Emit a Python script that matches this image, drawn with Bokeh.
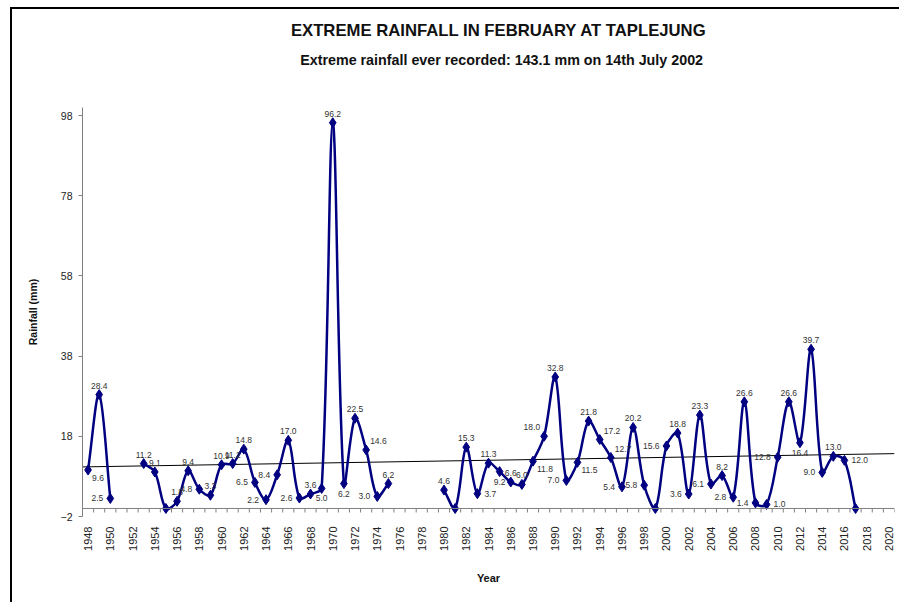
import numpy as np
from bokeh.plotting import figure
from bokeh.layouts import column
from bokeh.models import ColumnDataSource, FixedTicker, Span, Range1d
from bokeh.embed import file_html
from bokeh.resources import INLINE

# ---------------- data ----------------
years = [1948, 1949, 1950,
         1953, 1954, 1955, 1956, 1957, 1958, 1959, 1960, 1961, 1962, 1963, 1964,
         1965, 1966, 1967, 1968, 1969, 1970, 1971, 1972, 1973, 1974, 1975,
         1980, 1981, 1982, 1983, 1984, 1985, 1986, 1987, 1988, 1989, 1990, 1991,
         1992, 1993, 1994, 1995, 1996, 1997, 1998, 1999, 2000, 2001, 2002, 2003,
         2004, 2005, 2006, 2007, 2008, 2009, 2010, 2011, 2012, 2013, 2014, 2015,
         2016, 2017]
rain_mm = [9.6, 28.4, 2.5,
           11.2, 9.1, 0.0, 1.8, 9.4, 4.8, 3.3, 10.9, 11.2, 14.8, 6.5, 2.2,
           8.4, 17.0, 2.6, 3.6, 5.0, 96.2, 6.2, 22.5, 14.6, 3.0, 6.2,
           4.6, 0.0, 15.3, 3.7, 11.3, 9.2, 6.6, 6.0, 11.8, 18.0, 32.8, 7.0,
           11.5, 21.8, 17.2, 12.7, 5.4, 20.2, 5.8, 0.0, 15.6, 18.8, 3.6, 23.3,
           6.1, 8.2, 2.8, 26.6, 1.4, 1.0, 12.8, 26.6, 16.4, 39.7, 9.0, 13.0,
           12.0, 0.0]
y_ticks = [-2, 18, 38, 58, 78, 98]
x_tick_years = list(range(1948, 2021, 2))
TITLE = "EXTREME RAINFALL IN FEBRUARY AT TAPLEJUNG"
SUBTITLE = "Extreme rainfall ever recorded: 143.1 mm on 14th July 2002"

# data-label placement (style only)
LABEL_POS = {1948: "br", 1950: "l", 1958: "l", 1963: "l", 1964: "l", 1965: "l",
             1967: "l", 1969: "b", 1971: "b", 1973: "ar", 1974: "l",
             1983: "r", 1985: "b", 1988: "br", 1989: "al", 1991: "l", 1992: "br",
             1994: "ar", 1995: "ar", 1996: "l", 1998: "l", 2000: "l", 2002: "l",
             2004: "l", 2006: "l", 2008: "l", 2009: "r", 2010: "l", 2012: "b",
             2014: "l", 2016: "r"}

FONT = "Liberation Sans"
NAVY = "#000080"
X0, X1 = 1947.5, 2020.5
Y0, Y1 = -2, 100

W = 899
HT = 70            # height of the title strip
H = 602 - HT       # height of the chart figure
ML, MR, MT, MB = 82, 5, 107 - HT, 602 - 516

# ---------------- title strip ----------------
t = figure(width=W, height=HT, output_backend="svg", toolbar_location=None,
           x_range=Range1d(0, W), y_range=Range1d(HT, 0),
           min_border=0, x_axis_location=None, y_axis_location=None)
t.border_fill_color = None
t.background_fill_color = None
t.outline_line_color = None
t.xgrid.visible = False
t.ygrid.visible = False
t.text(x=[461], y=[30], text=[TITLE], text_align="center", text_baseline="middle",
       text_font={"value": FONT}, text_font_style="bold", text_font_size="16.7px",
       text_color="#111111")
t.text(x=[464], y=[59], text=[SUBTITLE], text_align="center", text_baseline="middle",
       text_font={"value": FONT}, text_font_style="bold", text_font_size="14.3px",
       text_color="#111111")

# ---------------- chart ----------------
p = figure(width=W, height=H, output_backend="svg", toolbar_location=None,
           x_range=Range1d(X0, X1), y_range=Range1d(Y0, Y1),
           min_border_left=ML, min_border_right=MR, min_border_top=MT,
           min_border_bottom=MB)
p.border_fill_color = None
p.background_fill_color = None
p.outline_line_color = None
p.xgrid.visible = False
p.ygrid.visible = False

SX = (W - ML - MR) / (X1 - X0)
SY = (H - MT - MB) / (Y1 - Y0)

# y axis
p.yaxis.ticker = FixedTicker(ticks=y_ticks)
p.yaxis.axis_line_color = "#808080"
p.yaxis.major_tick_line_color = "#808080"
p.yaxis.major_tick_out = 4
p.yaxis.major_tick_in = 0
p.yaxis.minor_tick_line_color = None
p.yaxis.major_label_text_font = FONT
p.yaxis.major_label_text_font_size = "10.5px"
p.yaxis.major_label_text_color = "#222222"
p.yaxis.major_label_standoff = 6
p.yaxis.axis_label = "Rainfall (mm)"
p.yaxis.axis_label_text_font = FONT
p.yaxis.axis_label_text_font_style = "bold"
p.yaxis.axis_label_text_font_size = "10.5px"
p.yaxis.axis_label_text_color = "#111111"
p.yaxis.axis_label_standoff = 19

# x axis (labels only; axis line drawn at 0)
p.xaxis.ticker = FixedTicker(ticks=x_tick_years)
p.xaxis.axis_line_color = None
p.xaxis.major_tick_line_color = None
p.xaxis.minor_tick_line_color = None
p.xaxis.major_label_orientation = np.pi / 2
p.xaxis.major_label_text_font = FONT
p.xaxis.major_label_text_font_size = "11px"
p.xaxis.major_label_text_color = "#222222"
p.xaxis.major_label_standoff = 4
p.xaxis.axis_label = "Year"
p.xaxis.axis_label_text_font = FONT
p.xaxis.axis_label_text_font_style = "bold"
p.xaxis.axis_label_text_font_size = "11px"
p.xaxis.axis_label_text_color = "#111111"
p.xaxis.axis_label_standoff = 18

p.add_layout(Span(location=0, dimension="width", line_color="#808080", line_width=1))
bounds = np.arange(X0, X1 + 0.01, 1.0)
p.segment(x0=bounds, y0=np.zeros_like(bounds), x1=bounds, y1=np.full_like(bounds, -1.0),
          line_color="#808080", line_width=1)

# linear trend line (least squares over the data)
coef = np.polyfit(years, rain_mm, 1)
tx = np.array([X0, X1])
p.line(tx, np.polyval(coef, tx), line_color="black", line_width=1)

# smoothed line: Excel-like bezier segments (chord-length scaled tangents)
runs, cur = [], [0]
for i in range(1, len(years)):
    if years[i] == years[i - 1] + 1:
        cur.append(i)
    else:
        runs.append(cur)
        cur = [i]
runs.append(cur)


def dist(a, b):
    return np.hypot((b[0] - a[0]) * SX, (b[1] - a[1]) * SY)


bz = {k: [] for k in ["x0", "y0", "x1", "y1", "cx0", "cy0", "cx1", "cy1"]}
for run in runs:
    P = [(years[i], rain_mm[i]) for i in run]
    n = len(P)
    for j in range(n - 1):
        p0 = P[max(j - 1, 0)]
        p1, p2 = P[j], P[j + 1]
        p3 = P[min(j + 2, n - 1)]
        d01, d12, d23 = dist(p0, p1), dist(p1, p2), dist(p2, p3)
        f1 = d12 / (d01 + d12) / 3 if d01 + d12 > 0 else 0
        f2 = d12 / (d12 + d23) / 3 if d12 + d23 > 0 else 0
        bz["x0"].append(p1[0]); bz["y0"].append(p1[1])
        bz["x1"].append(p2[0]); bz["y1"].append(p2[1])
        bz["cx0"].append(p1[0] + f1 * (p2[0] - p0[0]))
        bz["cy0"].append(p1[1] + f1 * (p2[1] - p0[1]))
        bz["cx1"].append(p2[0] - f2 * (p3[0] - p1[0]))
        bz["cy1"].append(p2[1] - f2 * (p3[1] - p1[1]))
p.bezier(source=ColumnDataSource(bz), x0="x0", y0="y0", x1="x1", y1="y1",
         cx0="cx0", cy0="cy0", cx1="cx1", cy1="cy1",
         line_color=NAVY, line_width=2.5, line_cap="round")

p.scatter(years, rain_mm, marker="diamond", size=10, fill_color=NAVY, line_color=NAVY)

# data labels
OFFS = {"a": (0, -6, "center", "bottom"), "b": (0, 7, "center", "top"),
        "l": (-7, 0, "right", "middle"), "r": (7, 0, "left", "middle"),
        "br": (4, 5, "left", "top"), "al": (-4, -6, "right", "bottom"),
        "ar": (4, -6, "left", "bottom")}
groups = {}
for yr, v in zip(years, rain_mm):
    if v == 0:
        continue
    groups.setdefault(LABEL_POS.get(yr, "a"), []).append((yr, v))
for code, pts in groups.items():
    dx, dy, al, bl = OFFS[code]
    p.text(x=[q[0] for q in pts], y=[q[1] for q in pts],
           text=[f"{q[1]:.1f}" for q in pts], x_offset=dx, y_offset=dy,
           text_align=al, text_baseline=bl, text_font_size="8.5px",
           text_font={"value": FONT}, text_color="#333333")

layout = column(t, p, spacing=0,
                styles={"background": "linear-gradient(#000,#000) 10px 7px / 2px 100% no-repeat, "
                                      "linear-gradient(#000,#000) 10px 7px / 100% 2px no-repeat, #fff"})

open("out.html", "w").write(file_html(layout, INLINE))
